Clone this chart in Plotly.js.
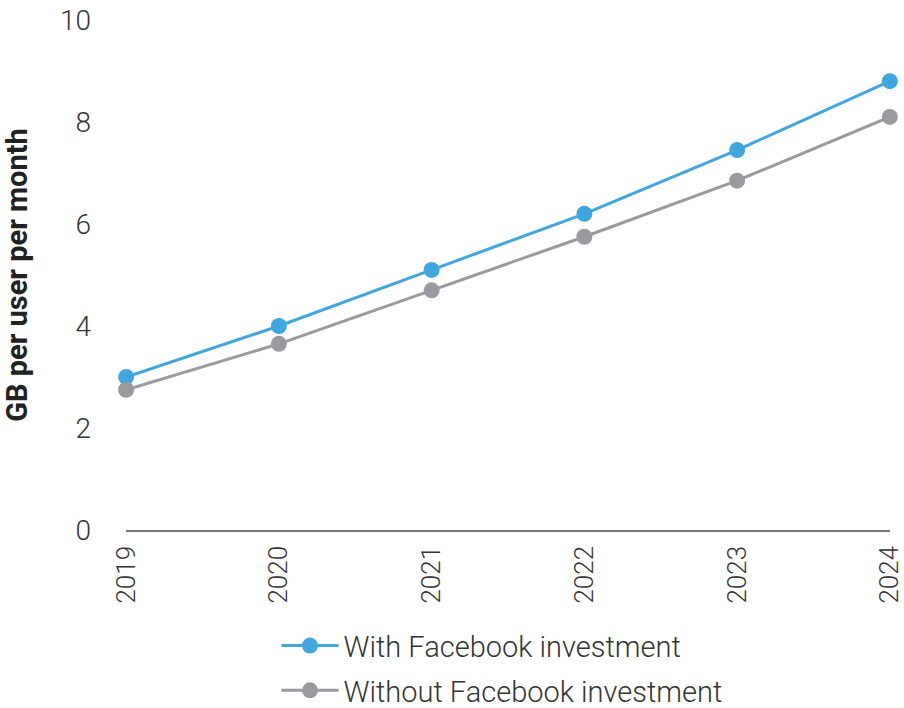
<!DOCTYPE html>
<html>
<head>
<meta charset="utf-8">
<script src="https://cdn.plot.ly/plotly-3.0.1.min.js"></script>
<style>html,body{margin:0;padding:0;background:#fff;}#chart{width:904px;height:708px;}</style>
</head>
<body>
<div id="chart"></div>
<script>
const years = [2019, 2020, 2021, 2022, 2023, 2024];
const withFb = [3.0, 4.0, 5.1, 6.2, 7.45, 8.8];
const withoutFb = [2.75, 3.65, 4.7, 5.75, 6.85, 8.1];
const seriesNames = ['With Facebook investment', 'Without Facebook investment'];
const yTicks = [0, 2, 4, 6, 8, 10];

const baseFont = {family: 'Roboto, "Open Sans", sans-serif', color: '#333333', weight: 300};

const traces = [
  {x: years, y: withFb, name: seriesNames[0], legendgroup: 'a', type: 'scatter', mode: 'lines+markers',
   line: {color: '#41a6dd', width: 3}, marker: {color: '#41a6dd', size: 16}, cliponaxis: false},
  {x: years, y: withoutFb, name: seriesNames[1], legendgroup: 'b', type: 'scatter', mode: 'lines+markers',
   line: {color: '#9a9a9e', width: 3}, marker: {color: '#9a9a9e', size: 16}, cliponaxis: false}
];

const layout = {
  width: 904, height: 708,
  margin: {l: 126, r: 14, t: 20, b: 178, autoexpand: false},
  paper_bgcolor: '#fff', plot_bgcolor: '#fff',
  font: baseFont,
  showlegend: true,
  legend: {x: 0.197, y: -0.177, xanchor: 'left', yanchor: 'top', orientation: 'v',
           font: Object.assign({}, baseFont, {size: 29}), tracegroupgap: 4, itemwidth: 57},
  xaxis: {
    range: [2018.999, 2024.001], tickvals: years, ticktext: years.map(String),
    tickangle: -90, showgrid: false, zeroline: false, showline: true, linecolor: '#777', linewidth: 1.5,
    ticks: '', tickfont: Object.assign({}, baseFont, {size: 26}), ticklabelstandoff: 4,
    ticklabeloverflow: 'allow'
  },
  yaxis: {
    range: [0, 10], tickvals: yTicks, showgrid: false, zeroline: false, showline: false,
    ticks: '', tickfont: Object.assign({}, baseFont, {size: 28}), ticklabelstandoff: 34,
    title: {text: 'GB per user per month', font: {family: 'Roboto, "Open Sans", sans-serif', size: 29, color: '#222', weight: 700}, standoff: 26}
  }
};

Plotly.newPlot('chart', traces, layout, {displayModeBar: false, staticPlot: true});
</script>
</body>
</html>
